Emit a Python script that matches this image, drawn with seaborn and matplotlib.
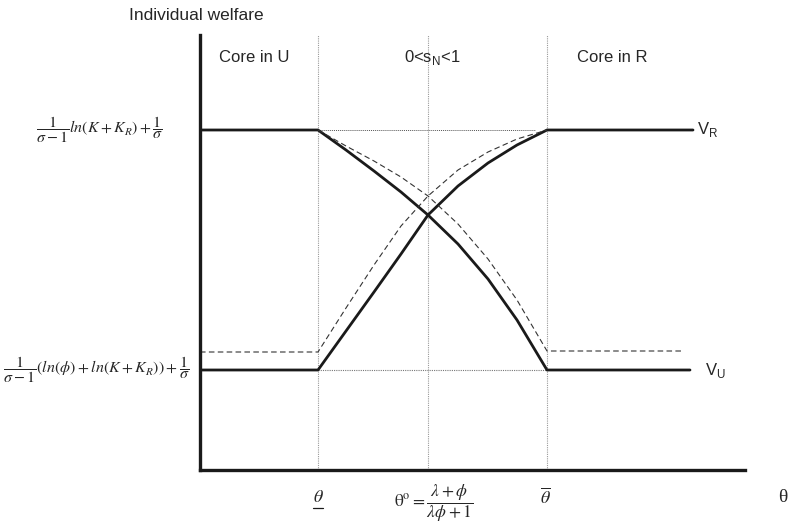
import pandas as pd
import seaborn as sns
import matplotlib.pyplot as plt

# key positions on the theta axis and welfare levels (arbitrary units)
theta_marks = [1.18, 2.28, 3.47]
w_high, w_low = 3.40, 1.00

# solid curves
theta_vr = [0, 1.18, 1.46, 1.74, 2.01, 2.28, 2.58, 2.88, 3.17, 3.47, 4.93]
vr_solid = [1.00, 1.00, 1.39, 1.78, 2.16, 2.55, 2.84, 3.07, 3.25, 3.40, 3.40]
theta_vu = [0, 1.18, 1.46, 1.74, 2.01, 2.28, 2.58, 2.88, 3.17, 3.47, 4.90]
vu_solid = [3.40, 3.40, 3.20, 2.99, 2.78, 2.55, 2.26, 1.91, 1.50, 1.00, 1.00]

# dashed curves
theta_vr_dash = [0, 1.18, 1.46, 1.74, 2.01, 2.28, 2.58, 2.88, 3.17, 3.47]
vr_dashed = [1.18, 1.18, 1.62, 2.05, 2.44, 2.74, 3.00, 3.18, 3.31, 3.40]
theta_vu_dash = [1.18, 1.46, 1.74, 2.01, 2.28, 2.58, 2.88, 3.17, 3.47, 4.84]
vu_dashed = [3.40, 3.24, 3.09, 2.93, 2.74, 2.46, 2.11, 1.70, 1.19, 1.19]

region_labels = ['Core in U', r'0<s$_\mathregular{N}$<1', 'Core in R']
region_x = [0.54, 2.32, 4.12]

sns.set_style('white')
plt.rcParams['font.family'] = ['Liberation Sans', 'DejaVu Sans']

fig = plt.figure(figsize=(7.93, 5.27), dpi=100)
ax = fig.add_axes([200 / 793, 57 / 527, 545 / 793, 435 / 527])
ax.set_xlim(0, 5.45)
ax.set_ylim(0, 4.35)

ink = '#1a1a1a'
for xs, ys in [(theta_vr, vr_solid), (theta_vu, vu_solid)]:
    sns.lineplot(x=xs, y=ys, ax=ax, color=ink, lw=2.0, sort=False, estimator=None)
for xs, ys in [(theta_vr_dash, vr_dashed), (theta_vu_dash, vu_dashed)]:
    sns.lineplot(x=xs, y=ys, ax=ax, color='#333333', lw=0.8, sort=False,
                 estimator=None, linestyle=(0, (5, 3)))

# guide lines
for t in theta_marks:
    ax.axvline(t, color='#999999', lw=0.8, ls=(0, (1, 1)), zorder=0)
ax.plot([theta_marks[0], 3.35], [w_high, w_high], color='#555555', lw=0.7, ls=(0, (1, 1)), zorder=0)
ax.plot([theta_marks[0], theta_marks[2]], [w_low, w_low], color='#777777', lw=0.8, ls=(0, (1, 1)), zorder=0)

sns.despine(ax=ax)
for s in ['left', 'bottom']:
    ax.spines[s].set_linewidth(2.4)
    ax.spines[s].set_color(ink)
ax.set_xticks([])
ax.set_yticks([])

# texts
ax.text(-0.04, 4.54, 'Individual welfare', ha='center', va='center', fontsize=12.5, clip_on=False)
for lbl, xx in zip(region_labels, region_x):
    ax.text(xx, 4.12, lbl, ha='center', va='center', fontsize=12)
ax.text(4.97, w_high, r'V$_\mathregular{R}$', ha='left', va='center', fontsize=12)
ax.text(5.05, w_low, r'V$_\mathregular{U}$', ha='left', va='center', fontsize=12)

ax.text(-1.0, w_high, r'$\dfrac{1}{\sigma-1}\mathit{ln}\left(K+K_R\right)+\dfrac{1}{\sigma}$',
        ha='center', va='center', fontsize=11.5, math_fontfamily='stix', clip_on=False)
ax.text(-1.04, w_low,
        r'$\dfrac{1}{\sigma-1}\left(\mathit{ln}(\phi)+\mathit{ln}\left(K+K_R\right)\right)+\dfrac{1}{\sigma}$',
        ha='center', va='center', fontsize=11.5, math_fontfamily='stix', clip_on=False)

ax.text(theta_marks[0], -0.27, r'$\theta$', ha='center', va='center', fontsize=13,
        math_fontfamily='stix', clip_on=False)
ax.plot([theta_marks[0] - 0.05, theta_marks[0] + 0.05], [-0.38, -0.38], color=ink, lw=0.9, clip_on=False)
ax.text(theta_marks[1] + 0.06, -0.33, r'$\mathrm{\theta}^\mathrm{o}=\dfrac{\lambda+\phi}{\lambda\phi+1}$',
        ha='center', va='center', fontsize=12.5, math_fontfamily='stix', clip_on=False)
ax.text(theta_marks[2] - 0.02, -0.27, r'$\overline{\theta}$', ha='center', va='center', fontsize=13,
        math_fontfamily='stix', clip_on=False)
ax.text(5.83, -0.28, 'θ', ha='center', va='center', fontsize=14, family='Liberation Serif',
        clip_on=False)

fig.savefig('out.png', dpi=100)
